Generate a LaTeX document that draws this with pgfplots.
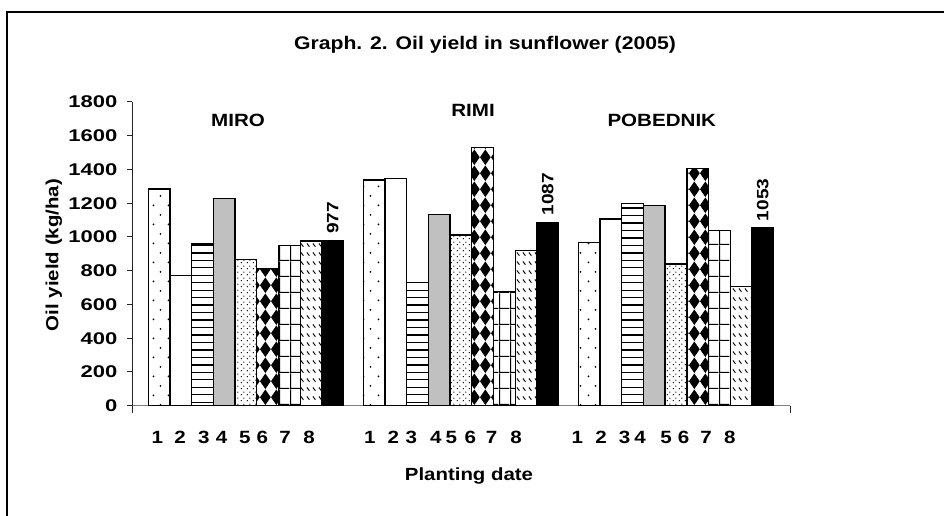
\documentclass[border=0pt]{standalone}
\usepackage{fontspec}
\setmainfont{Liberation Sans}[FakeStretch=1.16]
\newfontfamily\widefont{Liberation Sans}[FakeStretch=1.3]
\usepackage{pgfplots}
\pgfplotsset{compat=1.18}
\usetikzlibrary{patterns}

\pgfdeclarepatternformonly{sparsedots}{\pgfpointorigin}{\pgfqpoint{11.25pt}{14.5pt}}{\pgfqpoint{11.25pt}{14.5pt}}{%
  \pgfpathcircle{\pgfqpoint{2.8pt}{3.6pt}}{0.75pt}%
  \pgfpathcircle{\pgfqpoint{8.4pt}{10.9pt}}{0.75pt}%
  \pgfusepath{fill}}
\pgfdeclarepatternformonly{hlinesw}{\pgfpointorigin}{\pgfqpoint{100pt}{1.2pt}}{\pgfqpoint{100pt}{5.6pt}}{%
  \pgfsetlinewidth{1pt}%
  \pgfpathmoveto{\pgfqpoint{0pt}{0.6pt}}\pgfpathlineto{\pgfqpoint{100pt}{0.6pt}}%
  \pgfusepath{stroke}}
\pgfdeclarepatternformonly{densedots}{\pgfpointorigin}{\pgfqpoint{4.5pt}{4.5pt}}{\pgfqpoint{4.5pt}{4.5pt}}{%
  \pgfpathcircle{\pgfqpoint{1.125pt}{1.125pt}}{0.6pt}%
  \pgfpathcircle{\pgfqpoint{3.375pt}{3.375pt}}{0.6pt}%
  \pgfusepath{fill}}
\pgfdeclarepatternformonly{diamondsbig}{\pgfpointorigin}{\pgfqpoint{8.14pt}{11.8pt}}{\pgfqpoint{8.14pt}{11.8pt}}{%
  \pgfpathmoveto{\pgfqpoint{4.07pt}{0pt}}%
  \pgfpathlineto{\pgfqpoint{8.14pt}{5.9pt}}%
  \pgfpathlineto{\pgfqpoint{4.07pt}{11.8pt}}%
  \pgfpathlineto{\pgfqpoint{0pt}{5.9pt}}%
  \pgfpathclose\pgfusepath{fill}}
\pgfdeclarepatternformonly{gridbig}{\pgfpointorigin}{\pgfqpoint{8.4pt}{11.8pt}}{\pgfqpoint{8.4pt}{11.8pt}}{%
  \pgfsetlinewidth{0.9pt}%
  \pgfpathmoveto{\pgfqpoint{0.45pt}{0pt}}\pgfpathlineto{\pgfqpoint{0.45pt}{11.8pt}}%
  \pgfpathmoveto{\pgfqpoint{0pt}{0.45pt}}\pgfpathlineto{\pgfqpoint{8.4pt}{0.45pt}}%
  \pgfusepath{stroke}}
\pgfdeclarepatternformonly{dashesnw}{\pgfpointorigin}{\pgfqpoint{4.5pt}{7pt}}{\pgfqpoint{4.5pt}{7pt}}{%
  \pgfsetlinewidth{0.8pt}%
  \pgfpathmoveto{\pgfqpoint{0.8pt}{6pt}}\pgfpathlineto{\pgfqpoint{3pt}{3.4pt}}%
  \pgfusepath{stroke}}

\definecolor{barGray}{RGB}{192,192,192}
\definecolor{axGray}{RGB}{128,128,128}

\begin{document}
\begin{tikzpicture}
\useasboundingbox (0pt,0pt) rectangle (708pt,-386.25pt);
\begin{axis}[
  at={(99pt,-304.275pt)}, anchor=south west,
  scale only axis, width=493.5pt, height=227.8pt,
  xmin=-1.251, xmax=29.07, ymin=0, ymax=1800,
  axis lines=left,
  axis line style={-},
  x axis line style={draw=axGray, line width=0.75pt},
  y axis line style={draw=black!85, line width=0.75pt},
  tick align=outside,
  major tick length=3.75pt,
  ytick={0,200,...,1800},
  ytick style={draw=black!85, line width=0.75pt},
  xtick style={draw=none},
  xtick={-0.085,0.961,2.058,2.882,3.952,4.753,5.800,6.906,9.707,10.795,11.620,12.749,13.468,14.339,15.316,16.445,19.274,20.362,21.445,22.159,23.357,24.163,25.200,26.293},
  xticklabels={\mbox{1},\mbox{2},\mbox{3},\mbox{4},\mbox{5},\mbox{6},\mbox{7},\mbox{8},\mbox{1},\mbox{2},\mbox{3},\mbox{4},\mbox{5},\mbox{6},\mbox{7},\mbox{8},\mbox{1},\mbox{2},\mbox{3},\mbox{4},\mbox{5},\mbox{6},\mbox{7},\mbox{8}},
  xticklabel style={font=\fontsize{13.3}{15}\selectfont\bfseries, anchor=base, inner sep=0pt, yshift=-24.5pt},
  yticklabel style={font=\widefont\fontsize{12.7}{14}\selectfont\bfseries, anchor=east, inner xsep=0pt, xshift=-7pt},
  /pgf/number format/assume math mode=true,
  /pgf/number format/1000 sep={},
  clip=false,
]
\addplot[ybar, bar width=1, bar shift=0pt, draw=black, line width=1pt, pattern=sparsedots] coordinates {(0,1285) (9.908,1338) (19.816,966)};
\addplot[ybar, bar width=1, bar shift=0pt, draw=black, line width=1pt, fill=white] coordinates {(1,773) (10.908,1346) (20.816,1107)};
\addplot[ybar, bar width=1, bar shift=0pt, draw=black, line width=1pt, pattern=hlinesw] coordinates {(2,958) (11.908,731) (21.816,1198)};
\addplot[ybar, bar width=1, bar shift=0pt, draw=black, line width=1pt, fill=barGray] coordinates {(3,1228) (12.908,1132) (22.816,1188)};
\addplot[ybar, bar width=1, bar shift=0pt, draw=black, line width=1pt, pattern=densedots] coordinates {(4,866) (13.908,1012) (23.816,840)};
\addplot[ybar, bar width=1, bar shift=0pt, draw=black, line width=1pt, pattern=diamondsbig] coordinates {(5,813) (14.908,1531) (24.816,1405)};
\addplot[ybar, bar width=1, bar shift=0pt, draw=black, line width=1pt, pattern=gridbig] coordinates {(6,950) (15.908,676) (25.816,1038)};
\addplot[ybar, bar width=1, bar shift=0pt, draw=black, line width=1pt, pattern=dashesnw] coordinates {(7,977) (16.908,919) (26.816,706)};
\addplot[ybar, bar width=1, bar shift=0pt, draw=black, line width=1pt, fill=black] coordinates {(8,977) (17.908,1087) (27.816,1053)};
\node[rotate=90, anchor=west, inner sep=0pt, font=\fontsize{12.3}{14}\selectfont\bfseries] at (axis cs:8,1016.5) {977};
\node[rotate=90, anchor=west, inner sep=0pt, font=\fontsize{12.3}{14}\selectfont\bfseries] at (axis cs:17.908,1126.5) {1087};
\node[rotate=90, anchor=west, inner sep=0pt, font=\fontsize{12.3}{14}\selectfont\bfseries] at (axis cs:27.816,1092.5) {1053};
\end{axis}
\begin{scope}[x=0.75pt,y=-0.75pt]
\draw[line width=1.5pt] (6.7,520) -- (6.7,12) -- (950,12);
\draw[draw=black!85, line width=0.75pt] (132,405.7) -- (132,413);
\draw[draw=black!85, line width=0.75pt] (790,405.7) -- (790,413);
\node[anchor=base, inner sep=0pt, font=\fontsize{13.7}{16}\selectfont\bfseries] at (485,49) {Graph. 2. Oil yield in sunflower (2005)};
\node[anchor=base, inner sep=0pt, font=\fontsize{13.2}{15}\selectfont\bfseries] at (469,480.7) {Planting date};
\node[rotate=90, anchor=base, inner sep=0pt, font=\fontsize{13.2}{15}\selectfont\bfseries] at (58.3,255) {Oil yield (kg/ha)};
\node[inner sep=0pt, font=\fontsize{13.3}{15}\selectfont\bfseries] at (238,120.7) {MIRO};
\node[inner sep=0pt, font=\fontsize{13.3}{15}\selectfont\bfseries] at (473,110.7) {RIMI};
\node[inner sep=0pt, font=\fontsize{13.3}{15}\selectfont\bfseries] at (661.8,120.7) {POBEDNIK};
\end{scope}
\end{tikzpicture}
\end{document}
